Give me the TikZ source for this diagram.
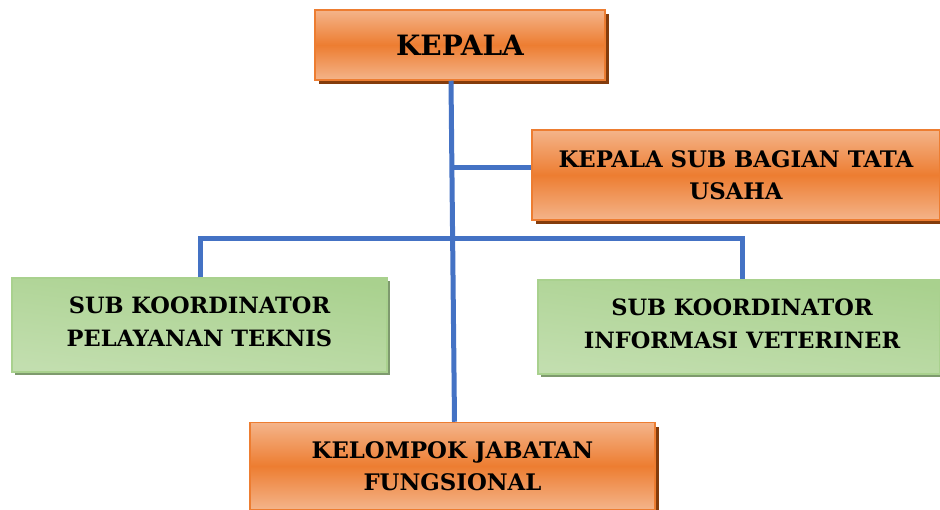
\documentclass[tikz,border=0pt]{standalone}
\usepackage{fontspec}
\setmainfont{DejaVu Serif}
\usetikzlibrary{shadows,backgrounds}
\definecolor{orA}{HTML}{ED7D31}
\definecolor{orL}{HTML}{F4B48A}
\definecolor{orS}{HTML}{843C0C}
\definecolor{grA}{HTML}{A9D18E}
\definecolor{grL}{HTML}{E8F2E0}
\definecolor{grS}{HTML}{7E9A6E}
\definecolor{ln}{HTML}{4472C4}
\begin{document}
\begin{tikzpicture}[x=1pt,y=-1pt,
  obox/.style={draw=orA,line width=1.5pt,top color=orL,bottom color=orL,middle color=orA,
     align=center,font=\bfseries\fontsize{22.8}{32}\selectfont,inner sep=0pt,
     drop shadow={shadow xshift=4pt,shadow yshift=-4pt,fill=orS,opacity=1}},
  gbox/.style={draw=grA,line width=1.5pt,top color=grA,middle color=grL,bottom color=grA!60!grL,shading angle=-7,
     align=center,inner sep=0pt,
     drop shadow={shadow xshift=3pt,shadow yshift=-3pt,fill=grS,opacity=1}},
  gtext/.style={font=\bfseries\fontsize{22.5}{33}\selectfont,align=center,inner sep=0pt},
  conn/.style={draw=ln,line width=5pt}]
\useasboundingbox (0,0) rectangle (940,509);
\node[obox,minimum width=290pt,minimum height=70pt,font=\bfseries\fontsize{28}{32}\selectfont] (kep) at (460,45) {KEPALA};
\node[obox,minimum width=408pt,minimum height=90pt] (tu) at (736,175) {KEPALA SUB BAGIAN TATA\\USAHA};
\node[gbox,minimum width=375pt,minimum height=94pt] (pt) at (199.5,325) {};
\node[gbox,minimum width=402pt,minimum height=94pt] (iv) at (739,327) {};
\node[gtext] (ptt) at (199.5,321.5) {SUB KOORDINATOR\\PELAYANAN TEKNIS};
\node[gtext] (ivt) at (742,323.5) {SUB KOORDINATOR\\INFORMASI VETERINER};
\node[obox,minimum width=405pt,minimum height=87pt] (kjf) at (452.5,466) {KELOMPOK JABATAN\\FUNGSIONAL};
\coordinate (j1) at (451,167);
\coordinate (bl) at (200,238);
\coordinate (br) at (742,238);
\draw[conn] ([xshift=-9pt]kep.south) -- ([xshift=2pt]kjf.north);
\draw[conn] (j1) -- (tu.west |- j1);
\draw[conn] (pt.north -| bl) -- (bl) -- (br) -- (iv.north -| br);
\end{tikzpicture}
\end{document}
